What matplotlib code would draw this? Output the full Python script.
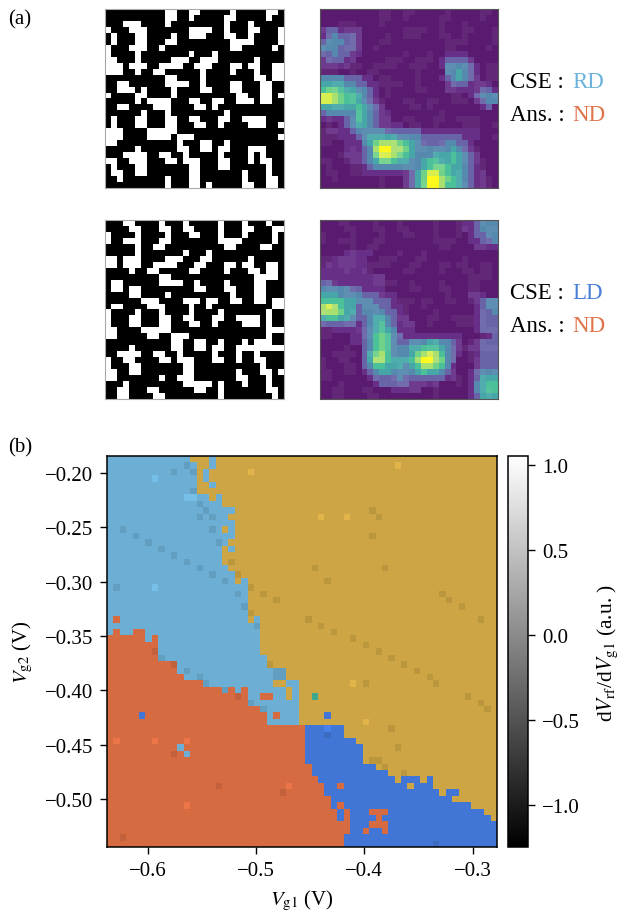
import numpy as np
import matplotlib
matplotlib.use("Agg")
import matplotlib.pyplot as plt
from matplotlib.colors import LinearSegmentedColormap, Normalize
from matplotlib.cm import ScalarMappable

plt.rcParams['font.family'] = ['Liberation Serif', 'DejaVu Serif']
plt.rcParams['mathtext.fontset'] = 'stix'
plt.rcParams['font.size'] = 15

# panel (a): white cells per row in the two binary maps
white_top = [
    [10,11,14,15,21,27,28], [10,11,14,20,21,27], [3,4,5,10,20,24], [0,4,5,6,14,15,16,17,20,24,25,29],
    [1,5,6,11,14,15,16,20,21,24,29], [1,5,6,10,11,21,22,23,24,29], [0,4,5,6,9,21,22,28], [0,5,14,18],
    [0,1,5,11,12,13,16,17,18,25], [0,1,2,4,5,6,9,10,11,12,15,16,17,21,22,24,25,28,29],
    [0,1,2,5,8,9,16,21,25,28,29], [10,11,16,25,26,28,29], [2,3,10,11,12,13,16,21,22,26,27],
    [2,3,4,6,11,16,17,21,22,26,27], [0,5,6,11,22,23,26,27,29], [5,7,8,9,10,14,15,18,19,22,23,24,26,27],
    [2,3,8,9,10,15,16,18], [6,10,20], [1,5,6,10,11,14,15,19,20,23,24,25,26], [1,5,6,10,11,15,16,19,24,25,26,29],
    [0,1,2,7,8,9,10,11], [0,1,2,7,8,9,10,12,13,14,29], [0,1,12,16,17,20], [5,12,13,16,17,19,20,24,25,26],
    [3,4,5,6,9,10,13,19,24,26], [0,1,4,5,6,10,11,13,14,15,19,20,24,26,27], [1,5,6,14,15,19,20,27],
    [1,2,5,6,14,15,23,27], [2,10,14,15,23,27,28], [10,14,15,17,23,24,27,28],
]
white_bottom = [
    [3,4,9,13,19,23,27], [4,5,9,10,13,14,19,23,24,28,29], [0,5,10,14,15,19,23,28], [0,3,4,5,9,10,19,20,21,22,28],
    [5,8,9,20,21,26,27], [5,13,17], [0,1,3,4,5,10,11,12,16,17,24], [0,1,3,4,5,8,9,10,11,15,16,20,21,23,24,27,28],
    [4,7,8,14,15,20,24,25,27,28], [9,10,25,26,27,28], [1,2,9,10,11,12,15,20,25,26], [1,2,4,5,15,16,20,21,25,26],
    [4,5,10,21,25,26], [6,7,8,13,14,15,17,18,21,22,25,26,28,29], [1,2,7,8,9,14,17,28,29], [0,5,9,14,19,27],
    [0,4,5,9,10,13,14,18,19,22,23,24,25,27], [0,4,5,9,10,14,15,18,23,24,25,27], [0,1,6,7,8,9,10,27,28,29],
    [0,1,7,8,11,12,13,27], [11,12,15,16,19,23,25,26,27], [4,11,12,15,16,18,19,22,23,24,25,26,27,28,29],
    [2,3,4,5,8,9,12,18,22,25], [0,3,4,9,10,12,13,14,18,19,22,25,26], [0,4,5,13,14,26], [0,1,4,5,13,14,22,26,27,29],
    [0,1,9,12,13,14,22,23,27], [3,13,14,15,16,17,19,23,27], [2,3,7,8,15,16,19,27,28], [2,3,8,9,19,28],
]

# panel (a): heat levels 0-9 per row, rest of the row is level 0
heat_top = [
    "", "", "", "1221111", "1232221", "2333221", "3332221", "2232211000000000000001111",
    "12221100000000000000122221", "111110000000000000001333321", "000000000000000000000334321",
    "3333222110000000000012343210", "44443322110000000000012221111", "566544332100000000000111111221",
    "887655432100000000000000012333", "887655432100000000000000001233", "44444454321000000000000000012",
    "23333354321100000000", "1111235432110000", "000123443211110", "011112333332222221111111111",
    "000111234444433332222222111", "00001113467776543222233221", "00001112379977643333334321",
    "000011123688765433344454321", "0000011234665443345544543210", "00000001233333333456654432100",
    "000000011111111246886544321100", "000000000000001246997654321100", "000000000000001246997554321100",
]
heat_bottom = [
    "000000000000000000000000112333", "000000000000000000000000112333", "000000000000000000000000012233",
    "000000000000000000000000011223", "000000000000000000000000001111",
    "000011111", "0011111100", "011111110", "11111111", "111111111110", "2211111111100",
    "33333221111", "444333322211100000000000011100", "555544333222100000000000001233",
    "787544233322110000000000001233", "777644233332210000000000001223", "455443223443211000000000001222",
    "222222123453211100000000001222", "001111123454311100000000001222", "000001123565321111111111000012",
    "000001123565322333443321001222", "000000023565333445554321011222", "000000024675333467875321001222",
    "000000024775444579976320001222", "000000023554443457765310001222",
    "000000012344333345443210012333", "000000001222232222222110012444", "000000000122222111110000013455",
    "000000000000111110000000013455", "000000000000000000000000012444",
]

# panel (b): class map, one entry per row of the 61x61 grid
red_end = [0] * 28 + [6, 8, 8, 8, 11, 11, 12, 15, 18, 22, 22, 24, 25, 25,
                      31, 31, 31, 31, 31, 31, 32, 32, 33, 34, 34, 35, 35, 36, 36, 38, 38, 37, 37]
yellow_start = [13, 14, 14, 14, 14, 14, 16, 18, 20, 19, 20, 20, 20, 19, 20, 18, 18, 19, 20, 20,
                22, 22, 22, 22, 22, 22, 24, 24, 24, 24, 24, 25, 25, 28, 28, 30, 30, 30, 30, 30, 30, 30,
                37, 37, 39, 40, 40, 40, 42, 44, 45, 51, 52, 54, 57, 59, 60, 61, 61, 61, 61]
LIGHT, YELLOW, RED, BLUE, TEAL = 0, 1, 2, 3, 4
class_colors = np.array([(108, 174, 212), (205, 165, 68), (214, 107, 66), (66, 118, 214), (62, 168, 142)]) / 255
odd_cells = [
    (0,16,LIGHT), (1,16,LIGHT), (2,15,LIGHT), (3,15,LIGHT), (4,16,LIGHT), (6,17,LIGHT), (11,18,YELLOW),
    (14,18,YELLOW), (14,19,LIGHT), (19,21,LIGHT), (25,23,LIGHT), (25,1,RED), (27,1,RED), (27,4,RED),
    (27,5,RED), (28,7,RED), (36,19,RED), (36,21,RED), (35,26,YELLOW), (35,27,YELLOW), (36,28,YELLOW),
    (37,28,YELLOW), (37,24,RED), (37,25,RED), (40,26,RED), (40,5,BLUE), (45,11,LIGHT), (46,12,LIGHT),
    (37,32,TEAL), (40,34,BLUE), (50,46,BLUE), (50,47,BLUE), (50,48,BLUE), (50,50,BLUE), (50,49,YELLOW),
    (51,36,RED), (51,47,YELLOW), (52,53,BLUE), (52,54,BLUE), (54,36,RED), (55,37,RED), (56,37,RED),
    (55,41,RED), (55,42,RED), (55,43,RED), (56,42,RED), (57,41,RED), (57,42,RED), (57,43,RED),
    (58,40,RED), (58,43,RED),
]
dark_cells = [
    (2,10), (9,14), (20,1), (11,2), (12,4), (13,6), (14,8), (15,10), (16,12), (17,14), (18,16), (19,18), (21,20),
    (23,21), (26,23), (1,12), (2,13), (5,13), (7,14), (8,15), (9,16), (11,16), (13,17), (16,19), (18,20), (20,22),
    (21,24), (22,26), (24,22), (8,41), (9,42), (12,41), (17,32), (17,43), (19,34), (21,52), (22,53), (25,31),
    (26,33), (27,35), (28,38), (29,40), (23,55), (25,58), (30,42), (31,44), (32,46), (33,48), (34,50), (35,51),
    (37,56), (38,58), (39,59), (35,40), (42,44), (45,45), (47,41), (47,42), (48,43), (49,46), (30,7), (32,10),
    (37,20), (46,10), (51,17), (52,27), (59,2), (31,8), (33,12), (34,14), (35,15), (36,18), (38,22), (39,24),
    (43,34), (60,51), (33,26), (33,27), (34,26), (34,27), (32,25),
]
bright_cells = [
    (3,7), (20,7), (2,22), (6,13), (6,12), (1,45), (9,37), (9,33), (35,38), (41,40), (44,1), (44,7), (44,12),
    (51,28), (54,12), (42,34),
]
cbar_ticks = [-1.0, -0.5, 0.0, 0.5, 1.0]
x_ticks = [-0.6, -0.5, -0.4, -0.3]
y_ticks = [-0.50, -0.45, -0.40, -0.35, -0.30, -0.25, -0.20]
x_range = (-0.6376, -0.2776)
y_range = (-0.5440, -0.1844)
cbar_range = (-1.247, 1.053)

W, H = 619, 920
fig = plt.figure(figsize=(W / 100, H / 100), dpi=100)


def px_axes(left, top, right, bottom):
    return fig.add_axes([left / W, 1 - bottom / H, (right - left) / W, (bottom - top) / H])


def px_text(x, y, s, **kw):
    fig.text(x / W, 1 - y / H, s, va='baseline', **kw)


def to_mask(rows):
    mask = np.zeros((30, 30))
    for r, cols in enumerate(rows):
        mask[r, cols] = 1
    return mask


def to_levels(rows):
    levels = np.zeros((30, 30))
    for r, row in enumerate(rows):
        digits = [int(ch) for ch in row][:30]
        levels[r, :len(digits)] = digits
    return levels


heat_cmap = LinearSegmentedColormap.from_list('heat', [
    (0.0, '#5a1a70'), (1 / 9, '#683088'), (2 / 9, '#6a65a8'), (3 / 9, '#5589ae'), (4 / 9, '#47a8a8'),
    (5 / 9, '#4cc09a'), (6 / 9, '#70d288'), (7 / 9, '#a8e070'), (8 / 9, '#d8ee50'), (1.0, '#fff81c')])

for top, white, heat in [(10, white_top, heat_top), (221, white_bottom, heat_bottom)]:
    mask = to_mask(white)
    ax = px_axes(105, top, 284, top + 179)
    ax.imshow(mask, cmap='gray', vmin=0, vmax=1, interpolation='nearest', aspect='auto')
    ax.set_xticks([])
    ax.set_yticks([])
    for s in ax.spines.values():
        s.set_color('#aaaaaa')
        s.set_linewidth(0.8)

    ax = px_axes(320, top, 498, top + 179)
    ax.imshow(to_levels(heat), cmap=heat_cmap, vmin=0, vmax=9, interpolation='nearest', aspect='auto')
    ax.imshow(np.ones((30, 30)), cmap='gray', vmin=0, vmax=1, alpha=mask * 0.06, interpolation='nearest', aspect='auto')
    ax.set_xticks([])
    ax.set_yticks([])
    for s in ax.spines.values():
        s.set_color('#555555')
        s.set_linewidth(0.8)

# panel (b)
classes = np.zeros((61, 61), dtype=int)
for r in range(61):
    classes[r, :] = BLUE if r >= 42 else LIGHT
    classes[r, :red_end[r]] = RED
    classes[r, yellow_start[r]:] = YELLOW
for r, c, k in odd_cells:
    classes[r, c] = k

shade = np.ones((61, 61))
for r, c in dark_cells:
    shade[r, c] = 0.91
for r, c in bright_cells:
    shade[r, c] = 1.1
rgb = np.clip(class_colors[classes] * shade[..., None], 0, 1)

ax = px_axes(107, 457, 497, 848)
ax.imshow(rgb, extent=[x_range[0], x_range[1], y_range[0], y_range[1]], interpolation='nearest', aspect='auto')
ax.set_xticks(x_ticks)
ax.set_yticks(y_ticks)
ax.set_xticklabels(['\u2212%.1f' % abs(v) for v in x_ticks])
ax.set_yticklabels(['\u2212%.2f' % abs(v) for v in y_ticks])
ax.tick_params(length=5, width=1.0, labelsize=15, pad=5)
ax.set_xlabel(r'$V_{\mathrm{g1}}$ (V)', fontsize=15, labelpad=6)
ax.set_ylabel(r'$V_{\mathrm{g2}}$ (V)', fontsize=15, labelpad=7)
for s in ax.spines.values():
    s.set_linewidth(1.1)

cax = px_axes(508, 457, 528, 848)
cb = fig.colorbar(ScalarMappable(Normalize(*cbar_range), 'gray'), cax=cax)
cb.set_ticks(cbar_ticks)
cb.set_ticklabels(['\u22121.0', '\u22120.5', '0.0', '0.5', '1.0'])
cb.ax.tick_params(length=5, width=1.0, labelsize=15, pad=5)
cb.outline.set_linewidth(1.1)
cb.set_label(r'd$V_{\mathrm{rf}}$/d$V_{\mathrm{g1}}$ (a.u. )', fontsize=15.5, labelpad=11)

# labels
fs = 16.5
px_text(8, 24, '(a)', fontsize=15)
px_text(8, 452, '(b)', fontsize=15)
for y, cse, color in [(88, 'RD', '#6cb2dc'), (299, 'LD', '#4a7fd8')]:
    px_text(510, y, 'CSE :', fontsize=fs)
    px_text(572, y, cse, fontsize=fs, color=color)
    px_text(510, y + 33, 'Ans. :', fontsize=fs)
    px_text(572, y + 33, 'ND', fontsize=fs, color='#e0734a')

fig.savefig('out.png', dpi=100)
